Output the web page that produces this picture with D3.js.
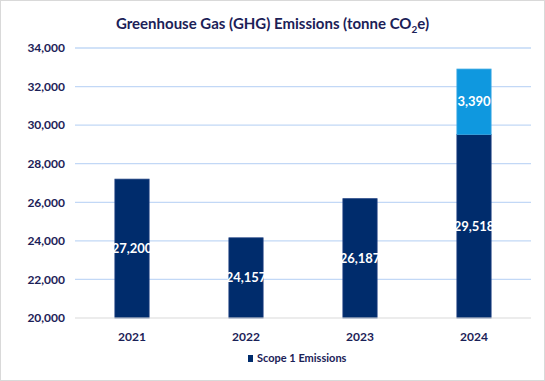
<!DOCTYPE html>
<html><head><meta charset="utf-8">
<script src="https://cdn.jsdelivr.net/npm/d3@7"></script>
<style>
html,body{margin:0;padding:0;background:#fff;}
svg{display:block;}
</style></head>
<body>
<script>
const categories = ["2021","2022","2023","2024"];
const scope1 = [27200, 24157, 26187, 29518];
const scope2 = [0, 0, 0, 3390];
const yTicks = [20000,22000,24000,26000,28000,30000,32000,34000];
const seriesNames = ["Scope 1 Emissions","Scope 2 Emissions"];

const W = 545, H = 381;
const margin = {top:48, right:14, bottom:63, left:75};
const font = "Lato, 'Open Sans', sans-serif";
const textColor = "#1b2157";

const svg = d3.select("body").append("svg").attr("width", W).attr("height", H);
svg.append("rect").attr("x",0.5).attr("y",0.5).attr("width",W-1).attr("height",H-1)
  .attr("fill","#fff").attr("stroke","#d9d9d9");

const x = d3.scaleBand().domain(categories).range([margin.left, W-margin.right]).paddingInner(0.7).paddingOuter(0.35);
const y = d3.scaleLinear().domain([20000,34000]).range([H-margin.bottom, margin.top]);

// gridlines
svg.append("g").selectAll("line").data(yTicks.slice(1)).join("line")
  .attr("x1", margin.left).attr("x2", W-margin.right)
  .attr("y1", d=>y(d)).attr("y2", d=>y(d))
  .attr("stroke","#c2d8f6").attr("stroke-width",1.3);

// y axis
const yAxis = svg.append("g").attr("transform",`translate(${margin.left},0)`)
  .call(d3.axisLeft(y).tickValues(yTicks).tickFormat(d3.format(",")).tickSize(0).tickPadding(10));
yAxis.select(".domain").remove();
yAxis.selectAll("text").attr("font-family",font).attr("font-size",12).attr("font-weight","bold").attr("fill",textColor);

// bars
const stack = categories.map((c,i)=>({c, s1:scope1[i], s2:scope2[i]}));
const g = svg.append("g");
g.selectAll(".s1").data(stack).join("rect")
  .attr("x", d=>x(d.c)).attr("width", x.bandwidth())
  .attr("y", d=>y(d.s1)).attr("height", d=>y(20000)-y(d.s1))
  .attr("fill","#002c6c").attr("stroke","#1d3f80").attr("stroke-width",0.8);
g.selectAll(".s2").data(stack.filter(d=>d.s2>0)).join("rect")
  .attr("x", d=>x(d.c)).attr("width", x.bandwidth())
  .attr("y", d=>y(d.s1+d.s2)).attr("height", d=>y(d.s1)-y(d.s1+d.s2))
  .attr("fill","#0f98df").attr("stroke","#3aa8e3").attr("stroke-width",0.8);

// baseline
svg.append("line").attr("x1",margin.left).attr("x2",W-margin.right)
  .attr("y1",y(20000)).attr("y2",y(20000)).attr("stroke","#d9d9d9").attr("stroke-width",1);

// labels
const lab = svg.append("g").attr("font-family",font).attr("font-size",13).attr("font-weight","bold")
  .attr("fill","#fff").attr("text-anchor","middle");
lab.selectAll(".l1").data(stack).join("text")
  .attr("x", d=>x(d.c)+x.bandwidth()/2).attr("y", d=>(y(d.s1)+y(20000))/2).attr("dy","0.35em")
  .text(d=>d3.format(",")(d.s1));
lab.selectAll(".l2").data(stack.filter(d=>d.s2>0)).join("text")
  .attr("x", d=>x(d.c)+x.bandwidth()/2).attr("y", d=>(y(d.s1+d.s2)+y(d.s1))/2).attr("dy","0.35em")
  .text(d=>d3.format(",")(d.s2));

// x axis
const xAxis = svg.append("g").attr("transform",`translate(0,${y(20000)})`)
  .call(d3.axisBottom(x).tickSize(0).tickPadding(14));
xAxis.select(".domain").remove();
xAxis.selectAll("text").attr("font-family",font).attr("font-size",12).attr("font-weight","bold").attr("fill",textColor);

// title
const t = svg.append("text").attr("x", W/2).attr("y", 29).attr("text-anchor","middle")
  .attr("font-family",font).attr("font-size",15).attr("font-weight","bold").attr("fill",textColor);
t.append("tspan").text("Greenhouse Gas (GHG) Emissions (tonne CO");
t.append("tspan").attr("font-size",10).attr("dy",4).text("2");
t.append("tspan").attr("dy",-4).text("e)");

// legend
const lg = svg.append("g").attr("transform","translate(248,355)");
lg.append("rect").attr("width",5).attr("height",7).attr("fill","#002c6c");
lg.append("text").attr("x",9).attr("y",3.5).attr("dy","0.35em").attr("font-family",font)
  .attr("font-size",11).attr("font-weight","bold").attr("fill",textColor).text(seriesNames[0]);
</script>
</body></html>
